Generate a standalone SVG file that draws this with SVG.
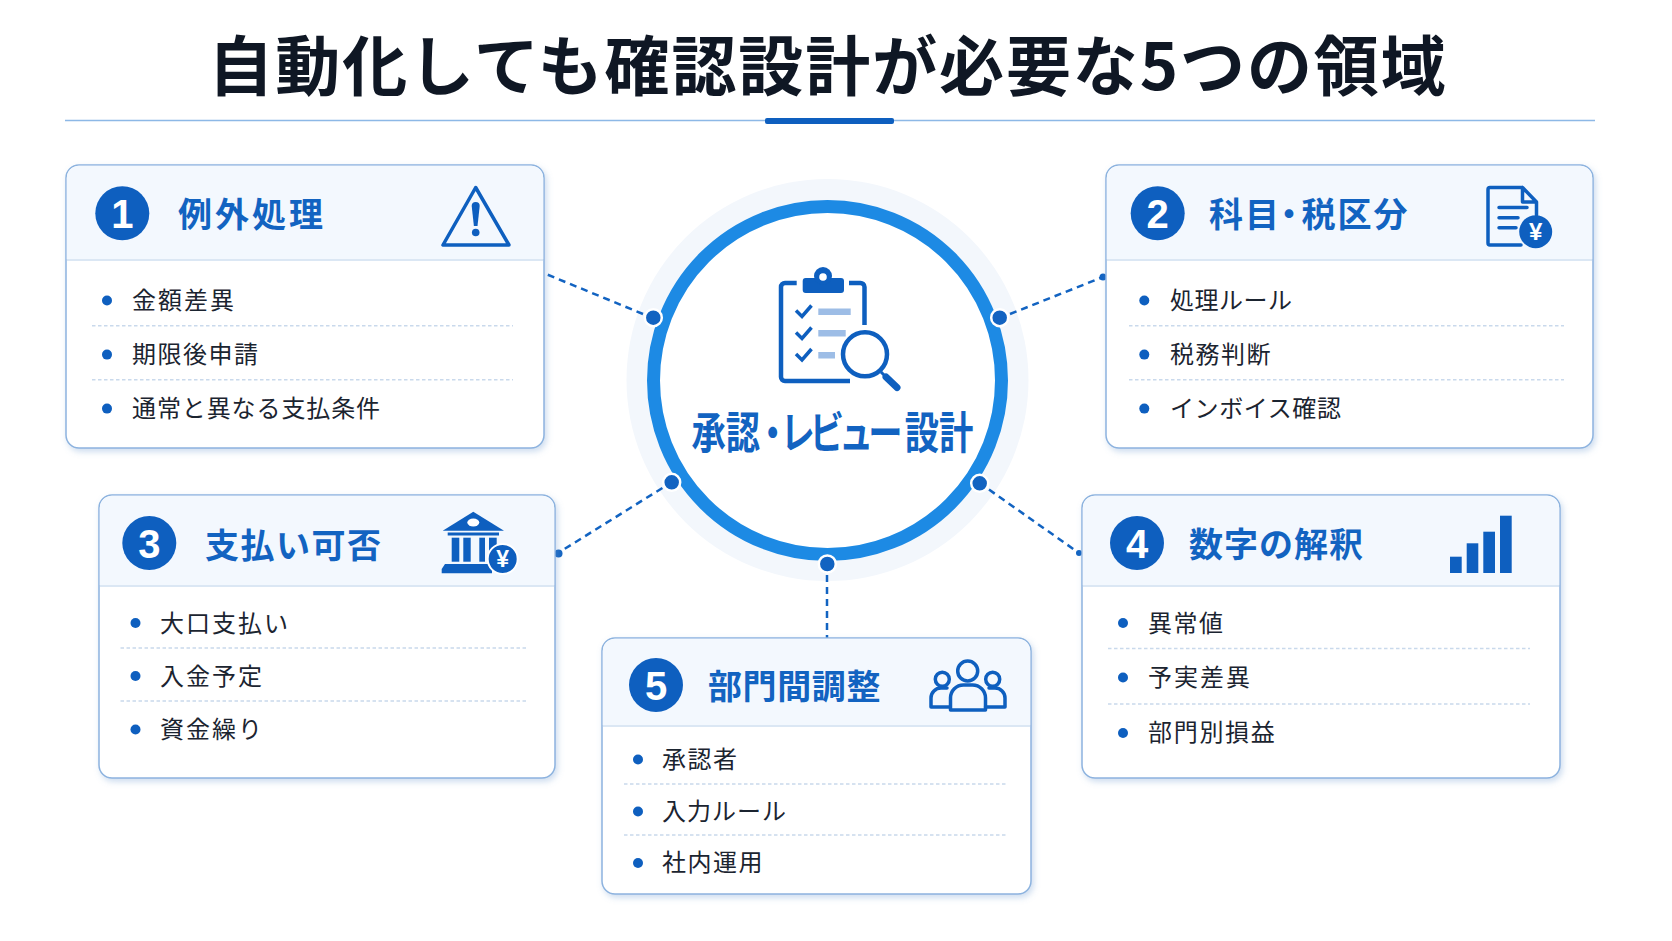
<svg xmlns="http://www.w3.org/2000/svg" width="1672" height="941" viewBox="0 0 1672 941">
<style>
text{font-family:"Noto Sans CJK JP","Noto Sans",sans-serif}
.card{fill:#fff;stroke:#8db3df;stroke-width:1.5;filter:url(#sh)}
.hd{fill:#f3f8fe}
.sep{stroke:#cfdff1;stroke-width:1.5}
.dl{stroke:#c9d9ec;stroke-width:1.5;stroke-dasharray:3.5 2.5}
.bd{fill:#0e5fbf}
.dg{font-family:"Liberation Sans",Arial,sans-serif;font-size:40px;font-weight:700;fill:#fff;text-anchor:middle}
.h{font-size:34px;font-weight:700;fill:#1263c1;letter-spacing:2px}
.it{font-size:24px;fill:#1b2430;letter-spacing:2px}
.b{fill:#0e5fbf}
.ico{fill:none;stroke:#0e5fbf;stroke-width:3.5;stroke-linejoin:round;stroke-linecap:round}
.fi{fill:#0e5fbf}
.yen{font-family:"Liberation Sans",Arial,sans-serif;font-weight:700;fill:#fff;text-anchor:middle}
.cn{stroke:#1263c1;stroke-width:2.5;stroke-dasharray:7 5;fill:none}
.nd{fill:#1263c1;stroke:#fff;stroke-width:2.5}
.ed{fill:#1263c1}
</style>
<defs>
<filter id="sh" x="-5%" y="-5%" width="110%" height="112%"><feDropShadow dx="2" dy="3" stdDeviation="3" flood-color="#6f9bd0" flood-opacity="0.35"/></filter>
</defs>
<rect width="1672" height="941" fill="#fff"/>
<g id="title">
<text x="828" y="90" font-size="65" font-weight="700" fill="#0f1724" text-anchor="middle" letter-spacing="1.9">自動化しても確認設計が必要な5つの領域</text>
<line x1="65" y1="120.5" x2="1595" y2="120.5" stroke="#8db8e6" stroke-width="1.5"/>
<rect x="765" y="118" width="129" height="6" rx="2" fill="#0e5fbf"/>
</g>
<g id="center">
<circle cx="827.500" cy="380" r="201" fill="#f3f7fc"/>
<circle cx="827.500" cy="380.500" r="174" fill="#fff" stroke="#1d8ae4" stroke-width="13"/>
<path d="M796.700 283H785a4 4 0 0 0-4 4V377a4 4 0 0 0 4 4H850M849 283H860a4 4 0 0 1 4.500 4V325" fill="none" stroke="#0e5fbf" stroke-width="4.500"/>
<rect x="802.700" y="278" width="41.300" height="15" rx="3" class="fi"/>
<circle cx="823" cy="276" r="9" class="fi"/>
<circle cx="823" cy="277" r="3.800" fill="#fff"/>
<path d="M796 310.500l6 6 9.500-11M796 332.500l6 6 9.500-11M796 354l6 6 9.500-11" fill="none" stroke="#0e5fbf" stroke-width="3.500"/>
<rect x="818.300" y="308.500" width="32.400" height="6.500" fill="#9dbde6"/>
<rect x="818.300" y="330" width="27.400" height="6.500" fill="#9dbde6"/>
<rect x="818.300" y="352" width="16.700" height="6.500" fill="#9dbde6"/>
<circle cx="865" cy="354.300" r="22" fill="#fff" stroke="#0e5fbf" stroke-width="4.500"/>
<path d="M881 372L886 377" stroke="#0e5fbf" stroke-width="3"/>
<path d="M886 377L897 387.500" stroke="#0e5fbf" stroke-width="7" stroke-linecap="round"/>
<text transform="translate(691.500 449) scale(.78 1)" font-size="44" font-weight="700" fill="#1263c1" dx="0 0 -6 -12 -6.500 -6.500 -6.500 3 0">承認・レビュー設計</text>
<circle class="nd" cx="653.300" cy="317.700" r="8.500"/>
<circle class="nd" cx="999.700" cy="317.700" r="8.500"/>
<circle class="nd" cx="671.700" cy="482.300" r="8.500"/>
<circle class="nd" cx="979.700" cy="483.300" r="8.500"/>
<circle class="nd" cx="827.300" cy="564" r="8.500"/>
</g>
<g id="connectors">
<path class="cn" d="M643 314L546 274"/>
<path class="cn" d="M1010 314L1103 277"/>
<path class="cn" d="M662.400 488L558 553"/>
<path class="cn" d="M989 489.600L1079 553"/>
<path class="cn" d="M827 575V638"/>
<circle class="ed" cx="1103" cy="277" r="3.5"/>
<circle class="ed" cx="558.500" cy="553.500" r="4"/>
<circle class="ed" cx="1079" cy="553" r="3"/>
</g>
<g id="card1">
<rect class="card" x="66" y="165" width="478" height="283" rx="13"/>
<path class="hd" d="M66.800 259V178a12.200 12.200 0 0 1 12.200-12.200H531a12.200 12.200 0 0 1 12.200 12.200V259Z"/>
<line class="sep" x1="67" y1="260" x2="543" y2="260"/>
<circle class="bd" cx="122.300" cy="213.300" r="27"/>
<text class="dg" x="122.300" y="228">1</text>
<text class="h" x="178" y="227" style="letter-spacing:3px">例外処理</text>
<path class="ico" d="M475.700 187.500L443 245H509Z"/>
<path class="fi" d="M471.700 206a4 4 0 0 1 8 0L477.500 226h-3.600Z"/>
<circle class="fi" cx="475.700" cy="232.500" r="3.800"/>
<circle class="b" cx="107" cy="300.500" r="5"/>
<text class="it" x="132" y="309">金額差異</text>
<line class="dl" x1="92" y1="325.700" x2="513" y2="325.700"/>
<circle class="b" cx="107" cy="354.600" r="5"/>
<text class="it" x="132" y="363" style="letter-spacing:1.500px">期限後申請</text>
<line class="dl" x1="92" y1="379.700" x2="513" y2="379.700"/>
<circle class="b" cx="107" cy="408.600" r="5"/>
<text class="it" x="132" y="417" style="letter-spacing:.9px">通常と異なる支払条件</text>
</g>
<g id="card2">
<rect class="card" x="1106" y="165" width="487" height="283" rx="13"/>
<path class="hd" d="M1106.800 259V178a12.200 12.200 0 0 1 12.200-12.200H1580a12.200 12.200 0 0 1 12.200 12.200V259Z"/>
<line class="sep" x1="1107" y1="260" x2="1592" y2="260"/>
<circle class="bd" cx="1157.700" cy="213.300" r="27"/>
<text class="dg" x="1157.700" y="228">2</text>
<text class="h" x="1209" y="227" dx="0 0 -9 -6.500 0 0">科目・税区分</text>
<path class="ico" d="M1522.500 187.500H1490a2 2 0 0 0-2 2V243a2 2 0 0 0 2 2H1521M1522.500 187.500L1536.500 202V215M1522.500 187.500V202H1536.500"/>
<path class="ico" d="M1499 207.500H1527M1499 217.700H1518M1499 227.700H1516" stroke-width="3"/>
<circle class="fi" cx="1535.700" cy="231.700" r="16.500"/>
<text class="yen" x="1535.700" y="240" font-size="24">¥</text>
<circle class="b" cx="1144.300" cy="300.500" r="5"/>
<text class="it" x="1170" y="309" style="letter-spacing:.5px">処理ルール</text>
<line class="dl" x1="1129" y1="325.700" x2="1564" y2="325.700"/>
<circle class="b" cx="1144.300" cy="354.600" r="5"/>
<text class="it" x="1170" y="363" style="letter-spacing:1.500px">税務判断</text>
<line class="dl" x1="1129" y1="379.700" x2="1564" y2="379.700"/>
<circle class="b" cx="1144.300" cy="408.600" r="5"/>
<text class="it" x="1170" y="417" style="letter-spacing:.6px">インボイス確認</text>
</g>
<g id="card3">
<rect class="card" x="99" y="495" width="456" height="283" rx="13"/>
<path class="hd" d="M99.800 585V508a12.200 12.200 0 0 1 12.200-12.200H542a12.200 12.200 0 0 1 12.200 12.200V585Z"/>
<line class="sep" x1="100" y1="586" x2="554" y2="586"/>
<circle class="bd" cx="149.300" cy="543" r="27"/>
<text class="dg" x="149.300" y="557.500">3</text>
<text class="h" x="205" y="558" style="letter-spacing:1.500px">支払い可否</text>
<path class="fi" d="M473.300 511.700L504 530.700H442.700Z"/>
<ellipse cx="473.300" cy="522.500" rx="6" ry="4" fill="#fff"/>
<rect class="fi" x="447.700" y="532.500" width="51.300" height="3"/>
<rect class="fi" x="451.700" y="537.700" width="7.600" height="24"/>
<rect class="fi" x="463.300" y="537.700" width="7.400" height="24"/>
<rect class="fi" x="479.300" y="537.700" width="5.700" height="24"/>
<rect class="fi" x="489" y="537.700" width="7.700" height="24"/>
<path class="fi" d="M445 564H492V573.300H441.700V569Z"/>
<circle class="fi" cx="502.700" cy="559" r="15" stroke="#fff" stroke-width="2"/>
<text class="yen" x="502.700" y="567" font-size="23">¥</text>
<circle class="b" cx="135.500" cy="623" r="5"/>
<text class="it" x="160" y="632">大口支払い</text>
<line class="dl" x1="120.500" y1="648" x2="526" y2="648"/>
<circle class="b" cx="135.500" cy="676" r="5"/>
<text class="it" x="160" y="685">入金予定</text>
<line class="dl" x1="120.500" y1="701" x2="526" y2="701"/>
<circle class="b" cx="135.500" cy="729.500" r="5"/>
<text class="it" x="160" y="738">資金繰り</text>
</g>
<g id="card4">
<rect class="card" x="1082" y="495" width="478" height="283" rx="13"/>
<path class="hd" d="M1082.800 585V508a12.200 12.200 0 0 1 12.200-12.200H1547a12.200 12.200 0 0 1 12.200 12.200V585Z"/>
<line class="sep" x1="1083" y1="586" x2="1559" y2="586"/>
<circle class="bd" cx="1137" cy="543" r="27"/>
<text class="dg" x="1137" y="557.500">4</text>
<text class="h" x="1189" y="557" style="letter-spacing:1px">数字の解釈</text>
<rect class="fi" x="1450" y="556.700" width="11.700" height="16.300"/>
<rect class="fi" x="1466.700" y="543.300" width="11.600" height="29.700"/>
<rect class="fi" x="1483.300" y="531.700" width="11.700" height="41.300"/>
<rect class="fi" x="1500" y="515.700" width="11.700" height="57.300"/>
<circle class="b" cx="1123" cy="623" r="5"/>
<text class="it" x="1148" y="632" style="letter-spacing:1.500px">異常値</text>
<line class="dl" x1="1108" y1="648.500" x2="1530" y2="648.500"/>
<circle class="b" cx="1123" cy="677.500" r="5"/>
<text class="it" x="1148" y="686">予実差異</text>
<line class="dl" x1="1108" y1="704" x2="1530" y2="704"/>
<circle class="b" cx="1123" cy="733" r="5"/>
<text class="it" x="1148" y="741" style="letter-spacing:1.700px">部門別損益</text>
</g>
<g id="card5">
<rect class="card" x="602" y="638" width="429" height="256" rx="13"/>
<path class="hd" d="M602.800 725V651a12.200 12.200 0 0 1 12.200-12.200H1018a12.200 12.200 0 0 1 12.200 12.200V725Z"/>
<line class="sep" x1="603" y1="726" x2="1030" y2="726"/>
<circle class="bd" cx="656" cy="685" r="27"/>
<text class="dg" x="656" y="699.500">5</text>
<text class="h" x="708" y="699" style="letter-spacing:.6px">部門間調整</text>
<circle class="ico" cx="967.700" cy="671" r="10"/>
<circle class="ico" cx="942.300" cy="679.300" r="7"/>
<circle class="ico" cx="992.700" cy="679.300" r="7"/>
<path class="ico" d="M950.500 710V698a13 13 0 0 1 13-13H972.500a13 13 0 0 1 13 13V710Z"/>
<path class="ico" d="M950 707H931V698a10 10 0 0 1 10-10H947M985.500 707H1005V698a10 10 0 0 0-10-10H989"/>
<circle class="b" cx="638" cy="759.500" r="5"/>
<text class="it" x="662" y="768" style="letter-spacing:1.500px">承認者</text>
<line class="dl" x1="624" y1="784" x2="1006" y2="784"/>
<circle class="b" cx="638" cy="811.500" r="5"/>
<text class="it" x="662" y="820" style="letter-spacing:1px">入力ルール</text>
<line class="dl" x1="624" y1="835" x2="1006" y2="835"/>
<circle class="b" cx="638" cy="863" r="5"/>
<text class="it" x="662" y="871" style="letter-spacing:1.500px">社内運用</text>
</g>
</svg>
